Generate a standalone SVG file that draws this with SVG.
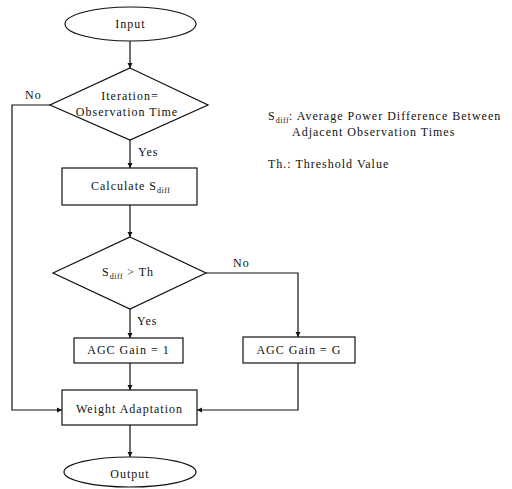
<svg xmlns="http://www.w3.org/2000/svg" width="512" height="489" viewBox="0 0 512 489">
<defs>
<marker id="ah" viewBox="0 0 10 10" refX="10" refY="5" markerWidth="5" markerHeight="6" orient="auto" markerUnits="userSpaceOnUse">
<path d="M0,0 L10,5 L0,10 Z" fill="#111"/>
</marker>
<style>
.s{fill:#fff;stroke:#111;stroke-width:1.2}
.c{fill:none;stroke:#111;stroke-width:1.2}
text{font-family:"Liberation Serif","Times New Roman",serif;font-size:12px;fill:#111;letter-spacing:1px}
.m{text-anchor:middle}
.sub{font-size:8px;letter-spacing:0.5px}
</style>
</defs>
<rect width="512" height="489" fill="#fff"/>
<g id="connectors">
<path class="c" d="M130,41 V68" marker-end="url(#ah)"/>
<path class="c" d="M130,140 V168" marker-end="url(#ah)"/>
<path class="c" d="M130,205 V237" marker-end="url(#ah)"/>
<path class="c" d="M130,309 V338" marker-end="url(#ah)"/>
<path class="c" d="M130,363 V390" marker-end="url(#ah)"/>
<path class="c" d="M130,425 V457" marker-end="url(#ah)"/>
<path class="c" d="M50,105 H12 V410 H62" marker-end="url(#ah)"/>
<path class="c" d="M206,273 H298 V337" marker-end="url(#ah)"/>
<path class="c" d="M298,363 V410 H197" marker-end="url(#ah)"/>
<text x="25" y="99">No</text>
<text x="138" y="156">Yes</text>
<text x="233" y="267">No</text>
<text x="137" y="325">Yes</text>
</g>
<g id="input">
<ellipse class="s" cx="130.5" cy="24" rx="65.5" ry="17"/>
<text class="m" x="130.5" y="28">Input</text>
</g>
<g id="decision1">
<polygon class="s" points="130,68 208,105 130,140 50,105"/>
<text class="m" x="130" y="100">Iteration=</text>
<text class="m" x="127" y="116">Observation Time</text>
</g>
<g id="calculate">
<rect class="s" x="62" y="168" width="135" height="37"/>
<text x="91" y="190">Calculate S<tspan class="sub" dy="3">diff</tspan></text>
</g>
<g id="decision2">
<polygon class="s" points="130,237 206,273 130,309 53,273"/>
<text x="102" y="276">S<tspan class="sub" dy="3">diff</tspan><tspan dy="-3"> &gt; Th</tspan></text>
</g>
<g id="agc1">
<rect class="s" x="74" y="338" width="109" height="25"/>
<text class="m" x="128.5" y="354">AGC Gain = 1</text>
</g>
<g id="agcg">
<rect class="s" x="243" y="337" width="112" height="26"/>
<text class="m" x="299" y="354">AGC Gain = G</text>
</g>
<g id="weight">
<rect class="s" x="62" y="390" width="135" height="35"/>
<text class="m" x="129.5" y="413">Weight Adaptation</text>
</g>
<g id="output">
<ellipse class="s" cx="130" cy="472" rx="66" ry="15"/>
<text class="m" x="130" y="478">Output</text>
</g>
<g id="legend">
<text x="268" y="120">S<tspan class="sub" dy="3">diff</tspan><tspan dy="-3">: Average Power Difference Between</tspan></text>
<text x="292" y="136">Adjacent Observation Times</text>
<text x="268" y="168">Th.: Threshold Value</text>
</g>
</svg>
